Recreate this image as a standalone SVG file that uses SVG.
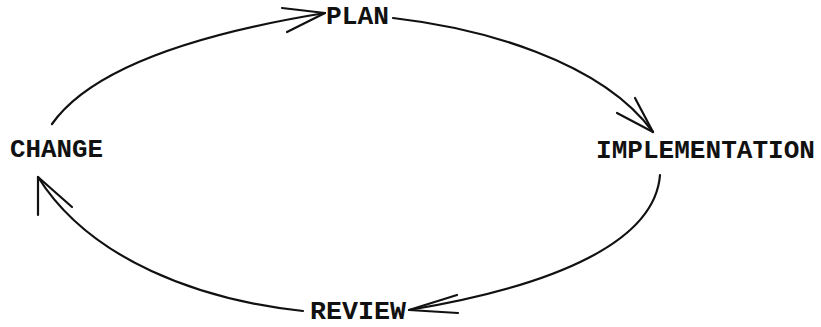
<svg xmlns="http://www.w3.org/2000/svg" width="821" height="327" viewBox="0 0 821 327">
<style>
.lbl{font-family:"Liberation Mono","Courier New",monospace;font-size:26px;font-weight:bold;fill:#111;}
.c{fill:none;stroke:#111;stroke-width:2.2;stroke-linecap:round;stroke-linejoin:round;}
</style>
<rect width="821" height="327" fill="#fff"/>
<g id="connectors">
<path class="c" d="M52,124 C90,70 190,35 325,13"/>
<path class="c" d="M282,8 L325,13 L287,32"/>
<path class="c" d="M393,18 C480,28 600,60 653,132"/>
<path class="c" d="M635,98 L653,132 L617,113"/>
<path class="c" d="M660,175 C655,240 560,285 409,310"/>
<path class="c" d="M457,295 L409,310 L458,313"/>
<path class="c" d="M303,311 C200,300 90,260 38,177"/>
<path class="c" d="M38,215 L38,177 L72,207"/>
</g>
<g id="plan"><text class="lbl" x="326" y="24" textLength="63" lengthAdjust="spacingAndGlyphs">PLAN</text></g>
<g id="implementation"><text class="lbl" x="596" y="158" textLength="219" lengthAdjust="spacingAndGlyphs">IMPLEMENTATION</text></g>
<g id="review"><text class="lbl" x="310" y="319" style="font-size:25px" textLength="96" lengthAdjust="spacingAndGlyphs">REVIEW</text></g>
<g id="change"><text class="lbl" x="10" y="157" textLength="93" lengthAdjust="spacingAndGlyphs">CHANGE</text></g>
</svg>
